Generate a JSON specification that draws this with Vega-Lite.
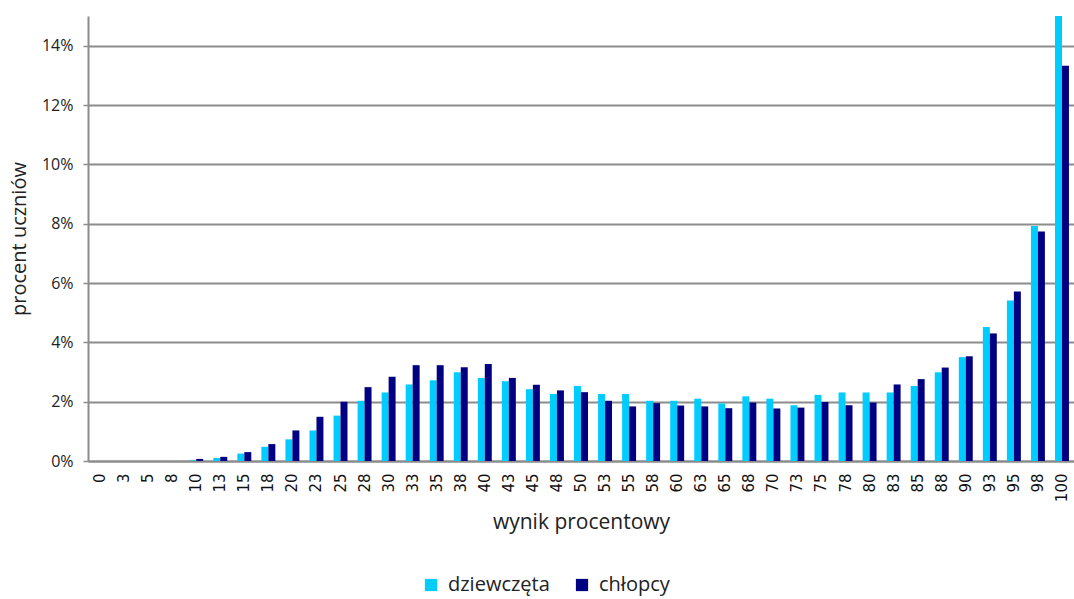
{
  "$schema": "https://vega.github.io/schema/vega-lite/v6.json",
  "width": 986,
  "height": 445,
  "autosize": {"type": "none"},
  "padding": {"left": 88, "top": 16, "right": 0, "bottom": 138},
  "background": "white",
  "config": {
    "view": {"stroke": null},
    "font": "Open Sans"
  },
  "data": {
    "values": [
      {"wynik": "0", "grupa": "dziewczęta", "procent": 0},
      {"wynik": "0", "grupa": "chłopcy", "procent": 0},
      {"wynik": "3", "grupa": "dziewczęta", "procent": 0},
      {"wynik": "3", "grupa": "chłopcy", "procent": 0},
      {"wynik": "5", "grupa": "dziewczęta", "procent": 0},
      {"wynik": "5", "grupa": "chłopcy", "procent": 0},
      {"wynik": "8", "grupa": "dziewczęta", "procent": 0},
      {"wynik": "8", "grupa": "chłopcy", "procent": 0},
      {"wynik": "10", "grupa": "dziewczęta", "procent": 0.02},
      {"wynik": "10", "grupa": "chłopcy", "procent": 0.07},
      {"wynik": "13", "grupa": "dziewczęta", "procent": 0.1},
      {"wynik": "13", "grupa": "chłopcy", "procent": 0.14},
      {"wynik": "15", "grupa": "dziewczęta", "procent": 0.25},
      {"wynik": "15", "grupa": "chłopcy", "procent": 0.3},
      {"wynik": "18", "grupa": "dziewczęta", "procent": 0.48},
      {"wynik": "18", "grupa": "chłopcy", "procent": 0.57},
      {"wynik": "20", "grupa": "dziewczęta", "procent": 0.73},
      {"wynik": "20", "grupa": "chłopcy", "procent": 1.03},
      {"wynik": "23", "grupa": "dziewczęta", "procent": 1.03},
      {"wynik": "23", "grupa": "chłopcy", "procent": 1.49},
      {"wynik": "25", "grupa": "dziewczęta", "procent": 1.53},
      {"wynik": "25", "grupa": "chłopcy", "procent": 2.0},
      {"wynik": "28", "grupa": "dziewczęta", "procent": 2.03},
      {"wynik": "28", "grupa": "chłopcy", "procent": 2.49},
      {"wynik": "30", "grupa": "dziewczęta", "procent": 2.31},
      {"wynik": "30", "grupa": "chłopcy", "procent": 2.84},
      {"wynik": "33", "grupa": "dziewczęta", "procent": 2.58},
      {"wynik": "33", "grupa": "chłopcy", "procent": 3.23},
      {"wynik": "35", "grupa": "dziewczęta", "procent": 2.72},
      {"wynik": "35", "grupa": "chłopcy", "procent": 3.23},
      {"wynik": "38", "grupa": "dziewczęta", "procent": 2.99},
      {"wynik": "38", "grupa": "chłopcy", "procent": 3.16},
      {"wynik": "40", "grupa": "dziewczęta", "procent": 2.8},
      {"wynik": "40", "grupa": "chłopcy", "procent": 3.27},
      {"wynik": "43", "grupa": "dziewczęta", "procent": 2.69},
      {"wynik": "43", "grupa": "chłopcy", "procent": 2.8},
      {"wynik": "45", "grupa": "dziewczęta", "procent": 2.42},
      {"wynik": "45", "grupa": "chłopcy", "procent": 2.57},
      {"wynik": "48", "grupa": "dziewczęta", "procent": 2.26},
      {"wynik": "48", "grupa": "chłopcy", "procent": 2.38},
      {"wynik": "50", "grupa": "dziewczęta", "procent": 2.53},
      {"wynik": "50", "grupa": "chłopcy", "procent": 2.32},
      {"wynik": "53", "grupa": "dziewczęta", "procent": 2.26},
      {"wynik": "53", "grupa": "chłopcy", "procent": 2.03},
      {"wynik": "55", "grupa": "dziewczęta", "procent": 2.26},
      {"wynik": "55", "grupa": "chłopcy", "procent": 1.84},
      {"wynik": "58", "grupa": "dziewczęta", "procent": 2.03},
      {"wynik": "58", "grupa": "chłopcy", "procent": 1.95},
      {"wynik": "60", "grupa": "dziewczęta", "procent": 2.03},
      {"wynik": "60", "grupa": "chłopcy", "procent": 1.87},
      {"wynik": "63", "grupa": "dziewczęta", "procent": 2.1},
      {"wynik": "63", "grupa": "chłopcy", "procent": 1.84},
      {"wynik": "65", "grupa": "dziewczęta", "procent": 1.94},
      {"wynik": "65", "grupa": "chłopcy", "procent": 1.78},
      {"wynik": "68", "grupa": "dziewczęta", "procent": 2.18},
      {"wynik": "68", "grupa": "chłopcy", "procent": 1.97},
      {"wynik": "70", "grupa": "dziewczęta", "procent": 2.1},
      {"wynik": "70", "grupa": "chłopcy", "procent": 1.77},
      {"wynik": "73", "grupa": "dziewczęta", "procent": 1.88},
      {"wynik": "73", "grupa": "chłopcy", "procent": 1.8},
      {"wynik": "75", "grupa": "dziewczęta", "procent": 2.23},
      {"wynik": "75", "grupa": "chłopcy", "procent": 1.99},
      {"wynik": "78", "grupa": "dziewczęta", "procent": 2.31},
      {"wynik": "78", "grupa": "chłopcy", "procent": 1.88},
      {"wynik": "80", "grupa": "dziewczęta", "procent": 2.31},
      {"wynik": "80", "grupa": "chłopcy", "procent": 1.97},
      {"wynik": "83", "grupa": "dziewczęta", "procent": 2.31},
      {"wynik": "83", "grupa": "chłopcy", "procent": 2.58},
      {"wynik": "85", "grupa": "dziewczęta", "procent": 2.53},
      {"wynik": "85", "grupa": "chłopcy", "procent": 2.76},
      {"wynik": "88", "grupa": "dziewczęta", "procent": 2.99},
      {"wynik": "88", "grupa": "chłopcy", "procent": 3.15},
      {"wynik": "90", "grupa": "dziewczęta", "procent": 3.5},
      {"wynik": "90", "grupa": "chłopcy", "procent": 3.53},
      {"wynik": "93", "grupa": "dziewczęta", "procent": 4.52},
      {"wynik": "93", "grupa": "chłopcy", "procent": 4.3},
      {"wynik": "95", "grupa": "dziewczęta", "procent": 5.41},
      {"wynik": "95", "grupa": "chłopcy", "procent": 5.71},
      {"wynik": "98", "grupa": "dziewczęta", "procent": 7.92},
      {"wynik": "98", "grupa": "chłopcy", "procent": 7.74},
      {"wynik": "100", "grupa": "dziewczęta", "procent": 16.5},
      {"wynik": "100", "grupa": "chłopcy", "procent": 13.32}
    ]
  },
  "mark": {"type": "bar", "clip": true},
  "encoding": {
    "x": {
      "field": "wynik",
      "type": "nominal",
      "sort": null,
      "scale": {"paddingInner": 0.42, "paddingOuter": 0.21},
      "axis": {
        "title": "wynik procentowy",
        "titleFontSize": 21,
        "titleFontWeight": "normal",
        "titleColor": "#222222",
        "titlePadding": 10,
        "labelAngle": -90,
        "labelFont": "DejaVu Sans",
        "labelFontSize": 15,
        "labelColor": "#111111",
        "labelPadding": 12,
        "ticks": false,
        "domainColor": "#8c8c8c",
        "domainWidth": 2,
        "grid": false
      }
    },
    "xOffset": {
      "field": "grupa",
      "type": "nominal",
      "sort": ["dziewczęta", "chłopcy"],
      "scale": {"paddingInner": 0, "paddingOuter": 0}
    },
    "y": {
      "field": "procent",
      "type": "quantitative",
      "scale": {"domain": [0, 15], "nice": false},
      "axis": {
        "title": "procent uczniów",
        "titleFontSize": 20,
        "titleFontWeight": "normal",
        "titleColor": "#222222",
        "titlePadding": 12,
        "values": [0, 2, 4, 6, 8, 10, 12, 14],
        "labelExpr": "datum.value + '%'",
        "labelFontSize": 16,
        "labelColor": "#222222",
        "labelPadding": 10,
        "tickSize": 5,
        "tickColor": "#8c8c8c",
        "tickWidth": 1.5,
        "domainColor": "#8c8c8c",
        "domainWidth": 2,
        "gridColor": "#8c8c8c",
        "gridWidth": 2
      }
    },
    "color": {
      "field": "grupa",
      "type": "nominal",
      "sort": ["dziewczęta", "chłopcy"],
      "scale": {"domain": ["dziewczęta", "chłopcy"], "range": ["#00CCFF", "#000080"]},
      "legend": {
        "title": null,
        "orient": "none",
        "legendX": 333,
        "legendY": 559,
        "direction": "horizontal",
        "symbolType": "square",
        "symbolSize": 150,
        "symbolStrokeWidth": 0,
        "labelFontSize": 20,
        "labelOffset": 7,
        "labelColor": "#222222",
        "columnPadding": 22
      }
    }
  }
}
